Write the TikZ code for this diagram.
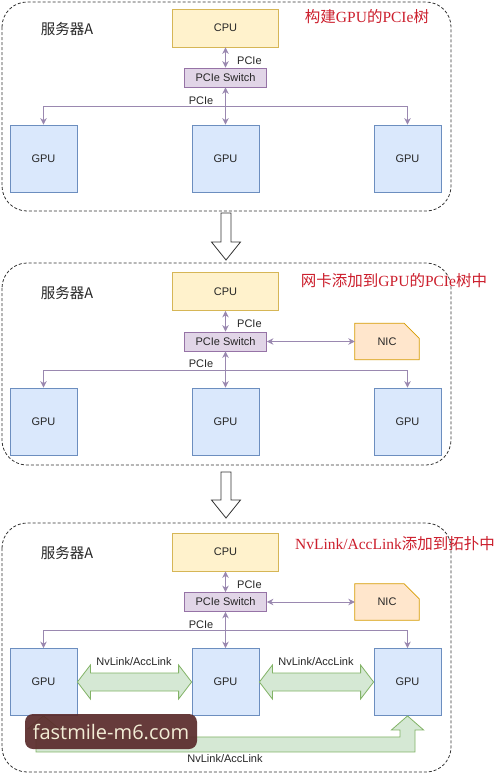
\documentclass[tikz,border=0pt]{standalone}
\usepackage{fontspec}
\setmainfont{Liberation Serif}
\setsansfont{Liberation Sans}
\newfontfamily\cjk{Noto Sans CJK SC}
\newfontfamily\lsans{Liberation Sans}
\newfontfamily\wmfont{Open Sans}
\usetikzlibrary{arrows.meta,calc,backgrounds}
\definecolor{cpufill}{HTML}{FFF2CC}
\definecolor{cpuline}{HTML}{D6B656}
\definecolor{swfill}{HTML}{E1D5E7}
\definecolor{swline}{HTML}{9673A6}
\definecolor{gpufill}{HTML}{DAE8FC}
\definecolor{gpuline}{HTML}{6C8EBF}
\definecolor{nicfill}{HTML}{FFE6CC}
\definecolor{nicline}{HTML}{D79B00}
\definecolor{nvfill}{HTML}{D5E8D4}
\definecolor{nvline}{HTML}{82B366}
\definecolor{busc}{HTML}{9A88B0}
\definecolor{titlered}{HTML}{CC1F2D}
\definecolor{wmbg}{HTML}{5A2B2B}
\definecolor{wmtext}{HTML}{F2EDD5}
\tikzset{
  box/.style={draw, line width=0.8pt, inner sep=0pt, font=\lsans\fontsize{11}{13}\selectfont, text=black!85},
  cpubox/.style={box, fill=cpufill, draw=cpuline, minimum width=106pt, minimum height=38pt},
  swbox/.style={box, fill=swfill, draw=swline, minimum width=82pt, minimum height=19pt},
  gpubox/.style={box, fill=gpufill, draw=gpuline, minimum width=67pt, minimum height=67pt},
  nicbox/.style={inner sep=0pt, minimum width=64pt, minimum height=36pt, font=\lsans\fontsize{11}{13}\selectfont, text=black!85},
  nicshape/.style={fill=nicfill, draw=nicline, line width=0.8pt},
  link/.style={draw=busc, line width=0.9pt},
  panel/.style={draw=black!80, line width=0.8pt, dash pattern=on 3pt off 2pt, rounded corners=25pt},
  titletext/.style={text=titlered, font=\fontsize{15.5}{18}\selectfont},
  server/.style={font=\cjk\fontsize{14.5}{17}\selectfont, text=black!85},
  lbl/.style={font=\lsans\fontsize{11}{13}\selectfont, inner sep=1pt, text=black!85},
  nvarrow/.style={fill=nvfill, draw=nvline, line width=0.8pt, line join=miter},
  hollow/.style={fill=white, draw=black!80, line width=0.8pt}
}
\begin{document}
\begin{tikzpicture}[x=1pt,y=-1pt,>={Stealth[length=6.5pt,width=6.5pt]}]
\useasboundingbox (0,0) rectangle (500,774);
\begin{scope}[on background layer]
\fill[white] (0,0) rectangle (500,774);
\end{scope}

% ---------- Panel 1 ----------
\draw[panel] (2,2) rectangle (451,211);
\node[server] (srv1) at (67,29) {服务器A};
\node[titletext] (t1) at (367,17) {{\cjk 构建}GPU{\cjk 的}PCIe{\cjk 树}};
\node[cpubox] (cpu1) at (225.5,28) {CPU};
\node[swbox] (sw1) at (225.5,77.5) {PCIe Switch};
\node[gpubox] (ga1) at (43.5,158.5) {GPU};
\node[gpubox] (gb1) at (225.5,158.5) {GPU};
\node[gpubox] (gc1) at (407.5,158.5) {GPU};
\draw[link,<->] (cpu1.south) -- (sw1.north);
\node[lbl, anchor=west] (p1a) at (236,61) {PCIe};
\draw[link,<->] (sw1.south) -- (gb1.north);
\coordinate (bus1) at (225.5,106);
\draw[link,->] (bus1) -| (ga1.north);
\draw[link,->] (bus1) -| (gc1.north);
\node[lbl] (p1b) at (201,101) {PCIe};

% hollow arrow 1
\draw[hollow] (221,213) -- (231,213) -- (231,242) -- (240.5,242) -- (226,260) -- (211.5,242) -- (221,242) -- cycle;

% ---------- Panel 2 ----------
\draw[panel] (2,263) rectangle (451,465);
\node[server] (srv2) at (67,293) {服务器A};
\node[titletext] (t2) at (394,281) {{\cjk 网卡添加到}GPU{\cjk 的}PCIe{\cjk 树中}};
\node[cpubox] (cpu2) at (225.5,291.5) {CPU};
\node[swbox] (sw2) at (225.5,341.5) {PCIe Switch};
\node[nicbox] (nic2) at (387,341.5) {NIC};
\begin{scope}[on background layer]
\draw[nicshape] (nic2.south west) -- (nic2.north west) -- ($(nic2.north east)+(-15,0)$) -- ($(nic2.north east)+(0,15)$) -- (nic2.south east) -- cycle;
\end{scope}
\node[gpubox] (ga2) at (43.5,421.5) {GPU};
\node[gpubox] (gb2) at (225.5,421.5) {GPU};
\node[gpubox] (gc2) at (407.5,421.5) {GPU};
\draw[link,<->] (cpu2.south) -- (sw2.north);
\node[lbl, anchor=west] (p2a) at (236,324) {PCIe};
\draw[link,<->] (sw2.east) -- (nic2.west);
\draw[link,<->] (sw2.south) -- (gb2.north);
\coordinate (bus2) at (225.5,370);
\draw[link,->] (bus2) -| (ga2.north);
\draw[link,->] (bus2) -| (gc2.north);
\node[lbl] (p2b) at (201,364) {PCIe};

% hollow arrow 2
\draw[hollow] (221,472) -- (231,472) -- (231,500) -- (240.5,500) -- (226,518) -- (211.5,500) -- (221,500) -- cycle;

% ---------- Panel 3 ----------
\draw[panel] (2,523) rectangle (451,772);
\node[server] (srv3) at (67,553) {服务器A};
\node[titletext] (t3) at (395,544) {NvLink/AccLink{\cjk 添加到拓扑中}};
\node[cpubox] (cpu3) at (225.5,552) {CPU};
\node[swbox] (sw3) at (225.5,602) {PCIe Switch};
\node[nicbox] (nic3) at (387,602) {NIC};
\begin{scope}[on background layer]
\draw[nicshape] (nic3.south west) -- (nic3.north west) -- ($(nic3.north east)+(-15,0)$) -- ($(nic3.north east)+(0,15)$) -- (nic3.south east) -- cycle;
\end{scope}
\node[gpubox] (ga3) at (43.5,682) {GPU};
\node[gpubox] (gb3) at (225.5,682) {GPU};
\node[gpubox] (gc3) at (407.5,682) {GPU};
\draw[link,<->] (cpu3.south) -- (sw3.north);
\node[lbl, anchor=west] (p3a) at (236,585) {PCIe};
\draw[link,<->] (sw3.east) -- (nic3.west);
\draw[link,<->] (sw3.south) -- (gb3.north);
\coordinate (bus3) at (225.5,630);
\draw[link,->] (bus3) -| (ga3.north);
\draw[link,->] (bus3) -| (gc3.north);
\node[lbl] (p3b) at (201,625) {PCIe};

% NvLink arrows
\draw[nvarrow] (ga3.east) -- ++(13,-17) -- ++(0,8) -- ($(gb3.west)+(-13,-9)$) -- ++(0,-8) -- (gb3.west) -- ++(-13,17) -- ++(0,-8) -- ($(ga3.east)+(13,9)$) -- ++(0,8) -- cycle;
\draw[nvarrow] (gb3.east) -- ++(13,-17) -- ++(0,8) -- ($(gc3.west)+(-13,-9)$) -- ++(0,-8) -- (gc3.west) -- ++(-13,17) -- ++(0,-8) -- ($(gb3.east)+(13,9)$) -- ++(0,8) -- cycle;
\node[lbl] (nv1) at (134,662) {NvLink/AccLink};
\node[lbl] (nv2) at (316,662) {NvLink/AccLink};
\draw[nvarrow] (ga3.south) -- ++(16,13) -- ++(-8.5,0) -- ++(0,8) -- ($(gc3.south)+(-7.5,21)$) -- ++(0,-7) -- ++(-8.5,0) -- (gc3.south) -- ++(16,14) -- ++(-8.5,0) -- ++(0,22) -- ($(ga3.south)+(-7.5,36)$) -- ++(0,-23) -- ++(-8.5,0) -- cycle;
\node[lbl] (nv3) at (225,759) {NvLink/AccLink};

% watermark
\node[fill=wmbg, fill opacity=0.92, text opacity=1, rounded corners=8pt, minimum width=172pt, minimum height=35pt, inner sep=0pt, text=wmtext, font=\wmfont\fontsize{20}{24}\selectfont] (wm) at (111,731.5) {fastmile-m6.com};
\end{tikzpicture}
\end{document}
